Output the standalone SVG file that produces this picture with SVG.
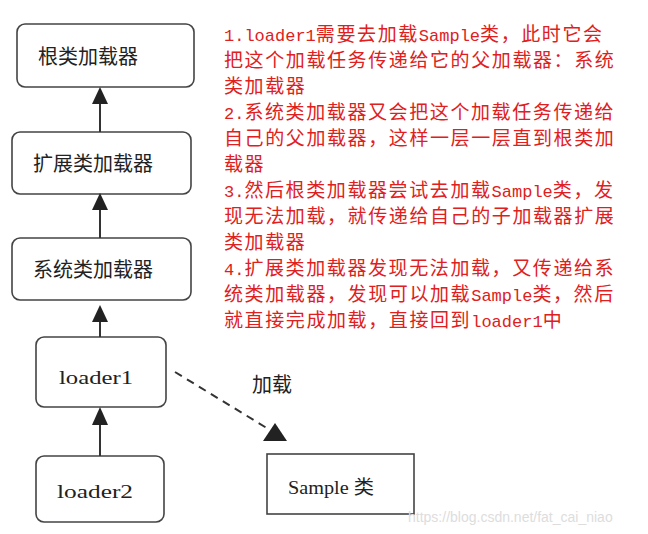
<svg xmlns="http://www.w3.org/2000/svg" width="648" height="534" viewBox="0 0 648 534">
<style>
.n{fill:#fff;stroke:#444;stroke-width:1.6}
.t{font-family:"Noto Sans CJK SC",sans-serif;font-size:20px;fill:#222}
.s{font-family:"Liberation Serif","Noto Sans CJK SC",serif;font-size:19px;fill:#222}
.r{font-family:"Liberation Mono","Noto Sans CJK SC",monospace;font-size:19px;fill:#e02020;letter-spacing:1.6px}
.l{font-size:17px;letter-spacing:0}
.c{stroke:#333;stroke-width:2;fill:none}
</style>
<rect width="648" height="534" fill="#fff"/>
<g id="root"><rect class="n" x="17" y="24" width="177" height="63" rx="8"/><text class="t" x="38" y="64">根类加载器</text></g>
<g id="ext"><rect class="n" x="12" y="132" width="179" height="62" rx="8"/><text class="t" x="33" y="171">扩展类加载器</text></g>
<g id="sys"><rect class="n" x="12" y="238" width="179" height="62" rx="8"/><text class="t" x="33" y="277">系统类加载器</text></g>
<g id="loader1"><rect class="n" x="36" y="337" width="130" height="70" rx="8"/><text class="s" x="59" y="384" textLength="74" lengthAdjust="spacingAndGlyphs">loader1</text></g>
<g id="loader2"><rect class="n" x="36" y="456" width="128" height="66" rx="8"/><text class="s" x="57" y="498" textLength="76" lengthAdjust="spacingAndGlyphs">loader2</text></g>
<g id="sample"><rect class="n" x="267" y="454" width="147" height="60" rx="0"/><text class="s" x="288" y="494" textLength="86" lengthAdjust="spacingAndGlyphs">Sample 类</text></g>
<g id="connectors">
<line class="c" x1="100" y1="132" x2="100" y2="100"/><polygon points="100,87 92,104 108,104" fill="#222"/>
<line class="c" x1="100" y1="238" x2="100" y2="206"/><polygon points="100,193 92,210 108,210" fill="#222"/>
<line class="c" x1="100" y1="337" x2="100" y2="318"/><polygon points="100,305 92,322 108,322" fill="#222"/>
<line class="c" x1="100" y1="456" x2="100" y2="424"/><polygon points="100,407 92,425 108,425" fill="#222"/>
<line class="c" x1="175" y1="372" x2="270" y2="430" stroke-dasharray="8,6"/><polygon points="275,423 263,441 287,441" fill="#222"/>
<text class="t" x="252" y="392" font-size="19">加载</text>
</g>
<g id="notes" class="r">
<text x="224" y="41"><tspan class="l">1.loader1</tspan>需要去加载<tspan class="l">Sample</tspan>类，此时它会</text>
<text x="224" y="67">把这个加载任务传递给它的父加载器：系统</text>
<text x="224" y="93">类加载器</text>
<text x="224" y="119"><tspan class="l">2.</tspan>系统类加载器又会把这个加载任务传递给</text>
<text x="224" y="145">自己的父加载器，这样一层一层直到根类加</text>
<text x="224" y="171">载器</text>
<text x="224" y="197"><tspan class="l">3.</tspan>然后根类加载器尝试去加载<tspan class="l">Sample</tspan>类，发</text>
<text x="224" y="223">现无法加载，就传递给自己的子加载器扩展</text>
<text x="224" y="249">类加载器</text>
<text x="224" y="275"><tspan class="l">4.</tspan>扩展类加载器发现无法加载，又传递给系</text>
<text x="224" y="301">统类加载器，发现可以加载<tspan class="l">Sample</tspan>类，然后</text>
<text x="224" y="327">就直接完成加载，直接回到<tspan class="l">loader1</tspan>中</text>
</g>
<text x="408" y="522" font-family="Liberation Sans,sans-serif" font-size="14" fill="#ddd">https://blog.csdn.net/fat_cai_niao</text>
</svg>
